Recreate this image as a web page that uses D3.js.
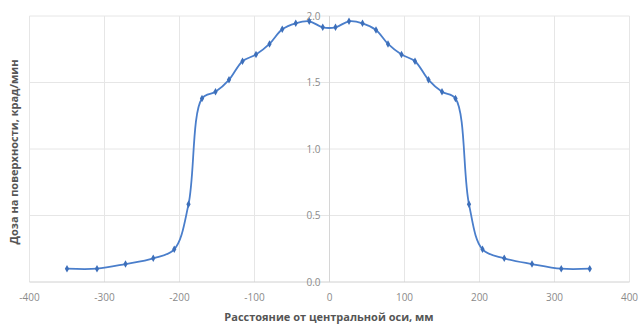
<!DOCTYPE html>
<html><head><meta charset="utf-8">
<script src="https://cdn.jsdelivr.net/npm/d3@7"></script>
<style>body{margin:0;background:#fff}svg{display:block}</style>
</head><body>
<svg id="c" width="639" height="325"></svg>
<script>
const xValues = [-350,-310,-272,-235,-207,-188,-170,-152,-134,-116,-98,-80,-63,-45,-27,-9,8,26,44,62,78,96,114,132,150,168,186,204,233,270,309,347];
const doseValues = [0.10,0.10,0.135,0.178,0.246,0.584,1.38,1.43,1.52,1.66,1.71,1.79,1.90,1.945,1.96,1.915,1.915,1.96,1.945,1.895,1.79,1.71,1.66,1.52,1.43,1.38,0.584,0.246,0.178,0.135,0.10,0.10];
const xTicks = [-400,-300,-200,-100,0,100,200,300,400];
const yTicks = [0.0,0.5,1.0,1.5,2.0];
const xTitle = "Расстояние от центральной оси, мм";
const yTitle = "Доза на поверхности, крад/мин";

const svg = d3.select("#c");
const x = d3.scaleLinear().domain([-400,400]).range([29.5,629.5]);
const y = d3.scaleLinear().domain([0,2]).range([282,16]);
const font = "'Open Sans', sans-serif";

const g = svg.append("g");
// grid
g.selectAll(".gx").data(xTicks).enter().append("line")
  .attr("x1",d=>x(d)).attr("x2",d=>x(d)).attr("y1",y(0)).attr("y2",y(2))
  .attr("stroke","#e6e6e6").attr("stroke-width",1);
g.selectAll(".gy").data(yTicks).enter().append("line")
  .attr("x1",x(-400)).attr("x2",x(400)).attr("y1",d=>y(d)).attr("y2",d=>y(d))
  .attr("stroke",d=>d===0?"#d0d0d0":"#e6e6e6").attr("stroke-width",1);
// vertical axis at x=0
g.append("line").attr("x1",x(0)).attr("x2",x(0)).attr("y1",y(0)).attr("y2",y(2))
  .attr("stroke","#d6d6d6");

// tick labels
g.selectAll(".tx").data(xTicks).enter().append("text")
  .attr("x",d=>x(d)).attr("y",301).attr("text-anchor","middle")
  .attr("font-family",font).attr("font-size",10).attr("fill","#8a8a8a")
  .text(d=>d);
g.selectAll(".ty").data(yTicks).enter().append("text")
  .attr("x",x(0)-9).attr("y",d=>y(d)+3.5).attr("text-anchor","end")
  .attr("font-family",font).attr("font-size",10).attr("fill","#8a8a8a")
  .text(d=>d.toFixed(1));

// titles
svg.append("text").attr("x",329).attr("y",321).attr("text-anchor","middle")
  .attr("font-family",font).attr("font-size",11).attr("font-weight","bold").attr("fill","#555")
  .text(xTitle);
svg.append("text").attr("transform","translate(18,152) rotate(-90)").attr("text-anchor","middle")
  .attr("font-family",font).attr("font-size",11).attr("font-weight","bold").attr("fill","#555")
  .text(yTitle);

// line
const pts = xValues.map((v,i)=>[v,doseValues[i]]);
const line = d3.line().x(d=>x(d[0])).y(d=>y(d[1])).curve(d3.curveCatmullRom.alpha(0.5));
svg.append("path").datum(pts).attr("d",line).attr("fill","none")
  .attr("stroke","#4a7ecb").attr("stroke-width",1.8);
svg.selectAll(".m").data(pts).enter().append("path")
  .attr("transform",d=>`translate(${x(d[0])},${y(d[1])})`)
  .attr("d",d3.symbol().type(d3.symbolDiamond).size(16))
  .attr("fill","#3d6fba");
</script>
</body></html>
